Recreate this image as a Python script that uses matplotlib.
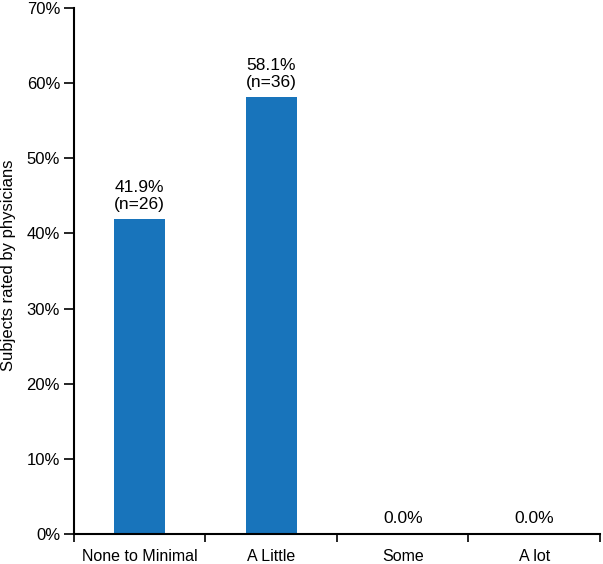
import matplotlib
matplotlib.use("Agg")
import matplotlib.pyplot as plt
from matplotlib.ticker import FixedLocator

categories = ["None to Minimal", "A Little", "Some", "A lot"]
values = [41.9, 58.1, 0.0, 0.0]
counts = [26, 36, None, None]
yticks = [0, 10, 20, 30, 40, 50, 60, 70]

plt.rcParams['font.family'] = ['Liberation Sans', 'DejaVu Sans']

fig = plt.figure(figsize=(6.03, 5.64), dpi=100)
ax = fig.add_axes([0.1227, 0.0532, 0.8723, 0.9326])

x = list(range(len(categories)))
ax.bar(x, values, width=0.39, color="#1874bb", zorder=2)

for xi, v, n in zip(x, values, counts):
    label = f"{v:.1f}%" if n is None else f"{v:.1f}%\n(n={n})"
    ax.text(xi, v + 1.0, label, ha="center", va="bottom", fontsize=12.5, linespacing=1.15)

ax.set_xlim(-0.5, len(categories) - 0.5)
ax.set_ylim(0, 70)
ax.set_yticks(yticks)
ax.set_yticklabels([f"{t}%" for t in yticks], fontsize=12)
ax.set_xticks(x)
ax.set_xticklabels(categories, fontsize=11.5)
ax.tick_params(axis="x", which="major", length=0, pad=11)
ax.xaxis.set_minor_locator(FixedLocator([i - 0.5 for i in range(len(categories) + 1)]))
ax.tick_params(axis="x", which="minor", length=6, width=1.2, direction="out")
ax.tick_params(axis="y", length=7, width=1.2, direction="out", pad=3)

for s in ["top", "right"]:
    ax.spines[s].set_visible(False)
for s in ["left", "bottom"]:
    ax.spines[s].set_linewidth(1.5)

ax.set_ylabel("Subjects rated by physicians", fontsize=12)
ax.yaxis.set_label_coords(-0.11, 0.51)

fig.savefig("out.png", dpi=100)
